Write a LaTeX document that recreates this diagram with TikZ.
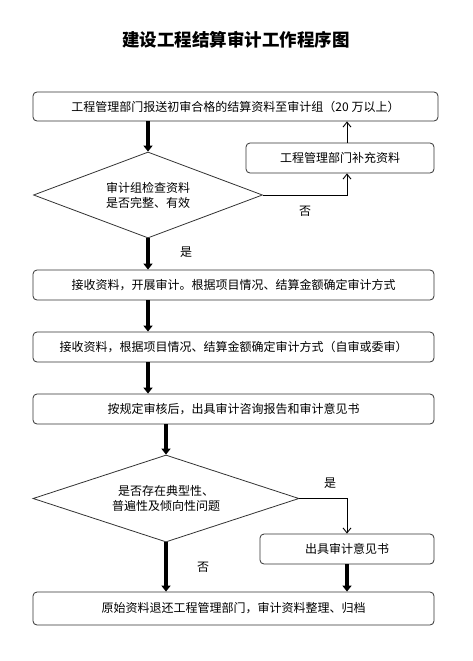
\documentclass[tikz,border=0pt]{standalone}
\usepackage{fontspec}
\setmainfont{Noto Sans CJK SC}
\usetikzlibrary{arrows.meta,shapes.geometric}
\begin{document}
\begin{tikzpicture}[x=1pt,y=-1pt,
  box/.style={draw=black!80,line width=0.8pt,rounded corners=4pt,inner sep=0pt,
    font=\fontsize{12}{14}\selectfont},
  dia/.style={draw=black!80,line width=0.8pt,diamond,inner sep=0pt},
  dtext/.style={align=center,font=\fontsize{12}{15}\selectfont,inner sep=0pt},
  lab/.style={font=\fontsize{12}{14}\selectfont,inner sep=0pt},
  thickarrow/.style={line width=4pt,-{Triangle[width=9pt,length=6pt]}},
  thinarrow/.style={line width=0.9pt,-{Straight Barb[width=8pt,length=5pt]}}]
\useasboundingbox[fill=white] (0,0) rectangle (473,661);
\node[font=\fontsize{17.5}{19}\selectfont\bfseries] (title) at (236,40) {建设工程结算审计工作程序图};
\node[box,minimum width=405,minimum height=29] (b1) at (235.5,106.5) {工程管理部门报送初审合格的结算资料至审计组（20 万以上）};
\node[box,minimum width=188,minimum height=30] (b2) at (340,158) {工程管理部门补充资料};
\node[dia,minimum width=229,minimum height=86] (d1) at (148,195) {};
\node[dtext] (d1t) at (d1) {审计组检查资料\\是否完整、有效};
\node[box,minimum width=401,minimum height=30] (b3) at (233.5,285) {接收资料，开展审计。根据项目情况、结算金额确定审计方式};
\node[box,minimum width=401,minimum height=30] (b4) at (233.5,347) {接收资料，根据项目情况、结算金额确定审计方式（自审或委审）};
\node[box,minimum width=401,minimum height=30] (b5) at (233.5,409) {按规定审核后，出具审计咨询报告和审计意见书};
\node[dia,minimum width=266,minimum height=87] (d2) at (166,498.5) {};
\node[dtext] (d2t) at (d2) {是否存在典型性、\\普遍性及倾向性问题};
\node[box,minimum width=174,minimum height=30] (b6) at (347,549) {出具审计意见书};
\node[box,minimum width=401,minimum height=33] (b7) at (233.5,608.5) {原始资料退还工程管理部门，审计资料整理、归档};
\coordinate (cx) at (347,0);
\coordinate (c1) at (148,0);
\coordinate (c2) at (166,0);
\node[lab] (no1) at (305,211) {否};
\node[lab] (yes1) at (186,252) {是};
\node[lab] (yes2) at (330,483) {是};
\node[lab] (no2) at (203,567) {否};
\draw[thickarrow] (d1.north |- b1.south) -- (d1.north);
\draw[thinarrow] (d1.east) -| (cx |- b2.south);
\draw[thinarrow] (cx |- b2.north) -- (cx |- b1.south);
\draw[thickarrow] (d1.south) -- (d1.south |- b3.north);
\draw[thickarrow] (c1 |- b3.south) -- (c1 |- b4.north);
\draw[thickarrow] (c1 |- b4.south) -- (c1 |- b5.north);
\draw[thickarrow] (c2 |- b5.south) -- (d2.north);
\draw[thinarrow] (d2.east) -| (b6.north);
\draw[thickarrow] (b6.south) -- (b6.south |- b7.north);
\draw[thickarrow] (d2.south) -- (d2.south |- b7.north);
\end{tikzpicture}
\end{document}
